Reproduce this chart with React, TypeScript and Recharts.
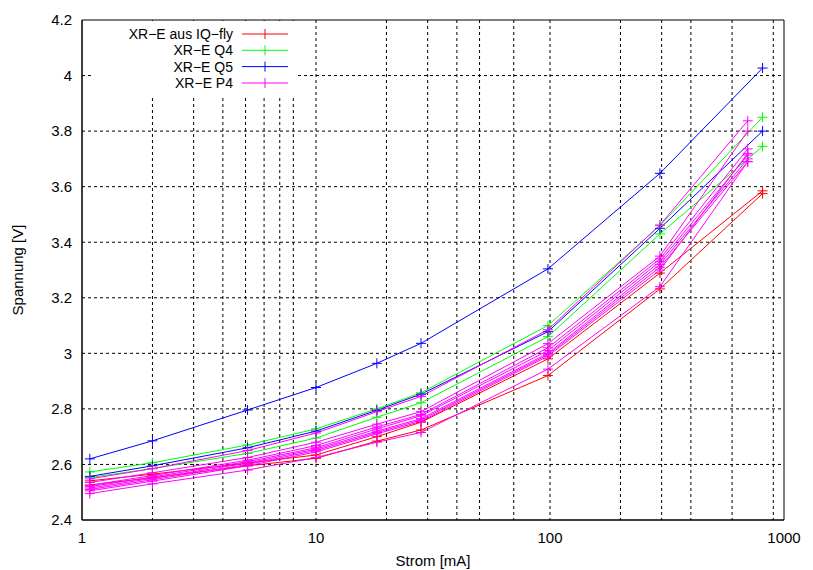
import React from "react";
import {
  LineChart,
  Line,
  XAxis,
  YAxis,
  CartesianGrid,
  ReferenceArea,
  Legend,
  Label,
} from "recharts";

// measured currents (mA)
const xOthers = [1.08, 2, 5.1, 10, 18.2, 28.1, 98, 295, 810];
const xP4 = [1.08, 2, 5.1, 10, 18.2, 28.1, 98, 295, 700];

// voltages (V)
const iqflyA = [2.541, 2.565, 2.605, 2.634, 2.7, 2.752, 2.98, 3.289, 3.585];
const iqflyB = [2.526, 2.552, 2.595, 2.622, 2.684, 2.724, 2.92, 3.232, 3.575];
const q4A = [2.573, 2.606, 2.67, 2.728, 2.8, 2.858, 3.1, 3.46, 3.85];
const q4B = [2.553, 2.585, 2.64, 2.695, 2.77, 2.822, 3.06, 3.43, 3.745];
const q5A = [2.62, 2.685, 2.796, 2.877, 2.964, 3.036, 3.304, 3.648, 4.027];
const q5B = [2.557, 2.595, 2.66, 2.72, 2.795, 2.853, 3.078, 3.45, 3.8];
const p4 = [
  [2.548, 2.585, 2.65, 2.713, 2.79, 2.845, 3.085, 3.462, 3.837],
  [2.535, 2.57, 2.625, 2.68, 2.745, 2.79, 3.035, 3.35, 3.8],
  [2.525, 2.56, 2.615, 2.668, 2.735, 2.78, 3.02, 3.34, 3.736],
  [2.52, 2.555, 2.61, 2.66, 2.728, 2.775, 3.01, 3.33, 3.714],
  [2.515, 2.55, 2.605, 2.655, 2.72, 2.765, 3.0, 3.32, 3.7],
  [2.51, 2.545, 2.6, 2.65, 2.715, 2.76, 2.995, 3.31, 3.69],
  [2.505, 2.54, 2.595, 2.645, 2.71, 2.755, 2.99, 3.3, 3.72],
  [2.495, 2.53, 2.58, 2.625, 2.68, 2.715, 2.943, 3.24, 3.69],
];

const legendNames = ["XR\u2212E aus IQ\u2212fly", "XR\u2212E Q4", "XR\u2212E Q5", "XR\u2212E P4"];
const colors = ["#ff0000", "#00ff00", "#0000ff", "#ff00ff"];

const xTicks = [1, 10, 100, 1000];
const yTicks = [2.4, 2.6, 2.8, 3, 3.2, 3.4, 3.6, 3.8, 4, 4.2];
const gridX = [
  2, 3, 4, 5, 6, 7, 8, 9, 10, 20, 30, 40, 50, 60, 70, 80, 90, 100, 200, 300,
  400, 500, 600, 700, 800, 900,
];
const gridY = [2.6, 2.8, 3, 3.2, 3.4, 3.6, 3.8, 4];

const font = "'Liberation Sans', Arial, sans-serif";
const fs = 15;

const toPoints = (xs: number[], ys: number[]) =>
  ys.map((y, i) => ({ x: xs[i], y }));

const series = [
  { c: colors[0], data: toPoints(xOthers, iqflyA) },
  { c: colors[0], data: toPoints(xOthers, iqflyB) },
  { c: colors[1], data: toPoints(xOthers, q4A) },
  { c: colors[1], data: toPoints(xOthers, q4B) },
  { c: colors[2], data: toPoints(xOthers, q5A) },
  { c: colors[2], data: toPoints(xOthers, q5B) },
  ...p4.map((ys) => ({ c: colors[3], data: toPoints(xP4, ys) })),
];

const plusDot = (color: string) => (props: any) => {
  const { cx, cy, index } = props;
  if (cx == null || cy == null) return <g key={index} />;
  return (
    <path
      key={index}
      d={`M${cx - 5},${cy}h10M${cx},${cy - 5}v10`}
      stroke={color}
      strokeWidth={1}
      fill="none"
    />
  );
};

const noLabel = () => <g />;

function KeyBox() {
  const rows = [13, 29.3, 45.6, 62];
  return (
    <svg width={205} height={74} style={{ display: "block", background: "#fff" }}>
      {legendNames.map((n, i) => (
        <g key={n}>
          <text
            x={141}
            y={rows[i]}
            textAnchor="end"
            dominantBaseline="central"
            fontFamily={font}
            fontSize={14}
            fill="#000"
          >
            {n}
          </text>
          <line x1={150} x2={196} y1={rows[i]} y2={rows[i]} stroke={colors[i]} />
          <line x1={173} x2={173} y1={rows[i] - 5} y2={rows[i] + 5} stroke={colors[i]} />
        </g>
      ))}
    </svg>
  );
}

export default function App() {
  return (
    <div style={{ width: 813, height: 570, background: "#fff" }}>
      <style>{"body{margin:0}"}</style>
      <LineChart
        width={813}
        height={570}
        margin={{ top: 20, right: 29, left: 22, bottom: 20 }}
      >
        <CartesianGrid
          stroke="#000"
          strokeDasharray="3 3"
          verticalValues={gridX}
          horizontalValues={gridY}
        />
        <XAxis
          type="number"
          dataKey="x"
          scale="log"
          domain={[1, 1000]}
          ticks={xTicks}
          allowDataOverflow
          height={30}
          tickSize={0}
          tickMargin={12}
          tickLine={false}
          axisLine={{ stroke: "#000" }}
          tick={{ fill: "#000", fontSize: fs, fontFamily: font }}
        >
          <Label
            content={({ viewBox }: any) => (
              <text
                x={viewBox.x + viewBox.width / 2}
                y={560}
                textAnchor="middle"
                dominantBaseline="central"
                fontFamily={font}
                fontSize={fs}
                fill="#000"
              >
                Strom [mA]
              </text>
            )}
          />
        </XAxis>
        {/* inward ticks on the top border */}
        <XAxis
          xAxisId="top"
          orientation="top"
          type="number"
          dataKey="x"
          scale="log"
          domain={[1, 1000]}
          ticks={gridX}
          allowDataOverflow
          height={0}
          mirror
          tickSize={6}
          tick={noLabel}
          tickLine={{ stroke: "#000" }}
          axisLine={false}
        />
        <YAxis
          type="number"
          domain={[2.4, 4.2]}
          ticks={yTicks}
          allowDataOverflow
          width={60}
          tickSize={0}
          tickMargin={10}
          tickLine={false}
          axisLine={{ stroke: "#000" }}
          tick={{ fill: "#000", fontSize: fs, fontFamily: font }}
        >
          <Label
            content={({ viewBox }: any) => {
              const cx = 17;
              const cy = viewBox.y + viewBox.height / 2;
              return (
                <text
                  x={cx}
                  y={cy}
                  textAnchor="middle"
                  dominantBaseline="central"
                  transform={`rotate(-90 ${cx} ${cy})`}
                  fontFamily={font}
                  fontSize={fs}
                  fill="#000"
                >
                  Spannung [V]
                </text>
              );
            }}
          />
        </YAxis>
        {/* inward ticks on the left border */}
        <YAxis
          yAxisId="ticks"
          type="number"
          domain={[2.4, 4.2]}
          ticks={yTicks}
          allowDataOverflow
          width={0}
          mirror
          tickSize={9}
          tick={noLabel}
          tickLine={{ stroke: "#000" }}
          axisLine={false}
        />
        <ReferenceArea
          x1={1}
          x2={1000}
          y1={2.4}
          y2={4.2}
          fill="none"
          stroke="#000"
          strokeWidth={1}
          fillOpacity={0}
        />
        {series.map((s, i) => (
          <Line
            key={i}
            data={s.data}
            dataKey="y"
            type="linear"
            stroke={s.c}
            strokeWidth={1}
            dot={plusDot(s.c)}
            activeDot={false}
            legendType="none"
            isAnimationActive={false}
          />
        ))}
        <Legend
          layout="vertical"
          align="center"
          verticalAlign="middle"
          content={() => <KeyBox />}
          wrapperStyle={{ left: 92, top: 21, width: 205, height: 74 }}
        />
      </LineChart>
    </div>
  );
}
